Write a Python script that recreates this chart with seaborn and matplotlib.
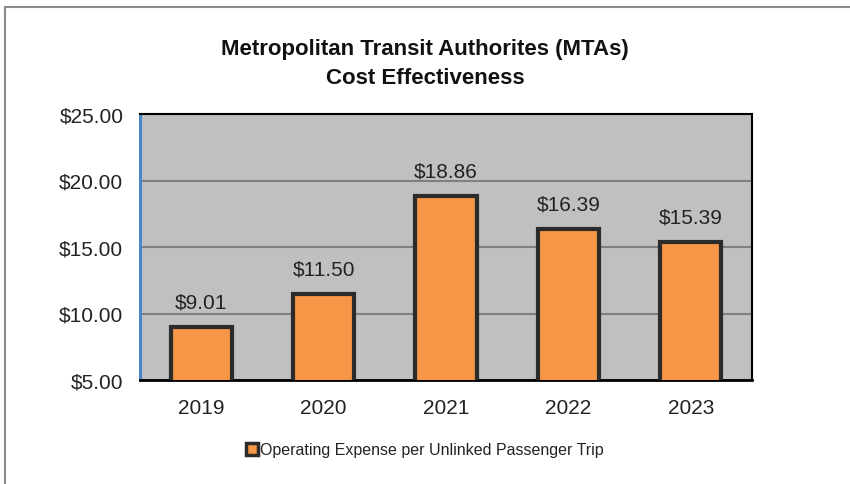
import pandas as pd
import numpy as np
import matplotlib.pyplot as plt
import seaborn as sns
from matplotlib.lines import Line2D

lata = ['2019', '2020', '2021', '2022', '2023']
koszt = [9.01, 11.50, 18.86, 16.39, 15.39]
seria = 'Operating Expense per Unlinked Passenger Trip'

dane = pd.DataFrame({'Rok': lata, 'Koszt': koszt})

sns.set_style('white')
plt.rcParams['font.family'] = ['Liberation Sans', 'DejaVu Sans']

fig = plt.figure(figsize=(8.5, 4.85), dpi=100)
ax = fig.add_axes([140 / 850, 1 - 381 / 485, 612 / 850, 266 / 485])

sns.barplot(x='Rok', y='Koszt', data=dane, color='#F79646', width=0.5,
            edgecolor='#2B2B2B', linewidth=3, saturation=1, ax=ax, zorder=3)

ax.set_facecolor('#C0C0C0')
ax.set_ylim(5, 25)
ax.set_xlim(-0.5, 4.5)
ax.set_yticks([5, 10, 15, 20, 25])
ax.set_yticklabels(['$%.2f' % v for v in [5, 10, 15, 20, 25]], fontsize=15, color='#222222')
ax.yaxis.grid(True, color='#808080', linewidth=1.5, zorder=0)
ax.set_axisbelow(True)
ax.tick_params(axis='y', direction='out', length=5, width=2, color='#4A86C8', pad=7)
ax.tick_params(axis='x', length=0, labelsize=15, labelcolor='#222222', pad=13)
ax.set_xticks(np.arange(-0.5, 5, 1), minor=True)
ax.tick_params(axis='x', which='minor', length=7, width=1.5, color='black', direction='out')
ax.set_xlabel('')
ax.set_ylabel('')

for s in ['top', 'right', 'bottom']:
    ax.spines[s].set_visible(True)
    ax.spines[s].set_color('black')
    ax.spines[s].set_linewidth(1.5)
ax.spines['bottom'].set_linewidth(2)
ax.spines['left'].set_color('#4A86C8')
ax.spines['left'].set_linewidth(2.2)

for i, v in enumerate(koszt):
    ax.text(i, v + 1.15, '$%.2f' % v, ha='center', va='bottom', fontsize=15, color='#222222')

fig.text(0.5, 1 - 64 / 485, 'Metropolitan Transit Authorites (MTAs)\nCost Effectiveness',
         ha='center', va='center', fontsize=16, weight='bold', linespacing=1.45, color='#111111')

uchwyt = Line2D([], [], marker='s', linestyle='', markersize=9, markerfacecolor='#F79646',
                markeredgecolor='#2B2B2B', markeredgewidth=2.5)
fig.legend([uchwyt], [seria], loc='center', bbox_to_anchor=(0.5, 1 - 451 / 485), frameon=False,
           prop={'size': 11.5}, handletextpad=0.1, handlelength=0.8, labelcolor='#222222')

# ramka wykresu
fig.add_artist(Line2D([5 / 850, 5 / 850], [0, 1 - 8 / 485], transform=fig.transFigure,
                      color='#8C8C8C', linewidth=1.5))
fig.add_artist(Line2D([5 / 850, 1], [1 - 8 / 485, 1 - 8 / 485], transform=fig.transFigure,
                      color='#8C8C8C', linewidth=1.5))

plt.savefig('out.png', dpi=100)
